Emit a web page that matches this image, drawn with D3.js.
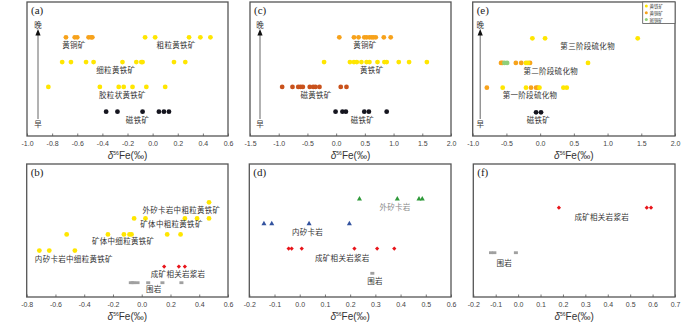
<!DOCTYPE html>
<html><head><meta charset="utf-8">
<script src="https://cdn.jsdelivr.net/npm/d3@7"></script>
<style>body{margin:0;background:#fff}svg{display:block}</style>
</head><body>
<script>
// ---------------- DATA ----------------
// panel (a)
const aChalcopyrite = [-0.69, -0.62, -0.60, -0.51, -0.49, -0.48];
const aCoarsePyrite = [-0.06, 0.02, 0.29, 0.38, 0.46];
const aFinePyrite = [-0.72, -0.65, -0.53, -0.47, -0.24, -0.13, -0.09, -0.08, 0.17, 0.26];
const aColloformPyrite = [-0.83, -0.42, -0.27, -0.23, -0.16, -0.05, 0.10];
const aMagnetite = [-0.37, -0.28, -0.08, 0.05, 0.09, 0.13];
const aTicks = [-1.0, -0.8, -0.6, -0.4, -0.2, 0.0, 0.2, 0.4, 0.6];

// panel (c)
const cChalcopyrite = [0.055, 0.31, 0.39, 0.49, 0.53, 0.58, 0.62, 0.65, 0.69, 0.83, 0.95];
const cPyrite = [-0.21, 0.24, 0.31, 0.36, 0.44, 0.53, 0.58, 0.72, 0.84, 0.88, 1.09, 1.27, 1.58];
const cPyrrhotite = [-0.94, -0.76, -0.66, -0.62, -0.58, -0.46, -0.40, -0.36, -0.29, 0.08, 0.18];
const cMagnetite = [-0.01, 0.11, 0.17, 0.49, 0.57, 0.88];
const cTicks = [-1.5, -1.0, -0.5, 0.0, 0.5, 1.0, 1.5, 2.0];

// panel (e)
const eStage3Pyrite = [-0.115, 0.073, 1.447];
const eStage2Chalcopyrite = [-0.58, -0.56, -0.36, -0.28, -0.15];
const eStage2Bornite = [-0.53, -0.49];
const eStage2Pyrite = [-0.21, -0.18, 0.71];
const eStage1Chalcopyrite = [-0.79, -0.135, -0.06, -0.035];
const eStage1Pyrite = [-0.555, -0.21, -0.01, 0.345, 0.395];
const eMagnetite = [-0.06, 0.013];
const eTicks = [-1.0, -0.5, 0.0, 0.5, 1.0, 1.5, 2.0];
const eLegend = ["黄铁矿", "黄铜矿", "斑铜矿"];

// panel (b)
const bOuterSkarnCoarse = [0.468];
const bOreCoarse = [-0.053, 0.026, 0.30, 0.385, 0.468];
const bOreFine = [-0.522, -0.235, -0.124, -0.085, -0.071, 0.177, 0.27];
const bInnerSkarnFine = [-0.712, -0.643, -0.465];
const bIgneous = [0.156, 0.258, 0.30];
const bWallRock = [-0.076, -0.064, -0.053, -0.029, 0.045, 0.144, 0.276];
const bTicks = [-0.8, -0.6, -0.4, -0.2, 0.0, 0.2, 0.4, 0.6];

// panel (d)
const dOuterSkarn = [0.237, 0.387, 0.473, 0.486];
const dInnerSkarn = [-0.142, -0.111, 0.037, 0.197];
const dIgneous = [-0.044, -0.032, 0.008, 0.217, 0.307, 0.375];
const dWallRock = [0.288];
const dTicks = [-0.2, -0.1, 0.0, 0.1, 0.2, 0.3, 0.4, 0.5, 0.6];

// panel (f)
const fIgneous = [0.182, 0.574, 0.593];
const fWallRock = [-0.121, -0.106, -0.01];
const fTicks = [-0.2, -0.1, 0.0, 0.1, 0.2, 0.3, 0.4, 0.5, 0.6, 0.7];

// ---------------- STYLE ----------------
const COL = {
  yellow: "#ffe600", orange: "#f7a21b", brown: "#c9521c", black: "#15151f",
  red: "#e8141a", gray: "#a0a0a0", green: "#2f9a3a", blue: "#33539f", lightgreen: "#8fcf7a"
};
const CJK = "'Noto Sans CJK SC', sans-serif";

const panels = [
  { name: "(a)", domain: [-1.0, 0.6], ticks: aTicks, left: 27, right: 228, top: 2, bottom: 136,
    rows: [1, 4], rowRange: [111.7, 37.3], arrowX: 11,
    series: [
      { v: aChalcopyrite, row: 4, kind: "dot", c: COL.orange },
      { v: aCoarsePyrite, row: 4, kind: "dot", c: COL.yellow },
      { v: aFinePyrite, row: 3, kind: "dot", c: COL.yellow },
      { v: aColloformPyrite, row: 2, kind: "dot", c: COL.yellow },
      { v: aMagnetite, row: 1, kind: "dot", c: COL.black }],
    labels: [
      { t: "黄铜矿", x: -0.627, row: 4 }, { t: "粗粒黄铁矿", x: 0.187, row: 4 },
      { t: "细粒黄铁矿", x: -0.293, row: 3 }, { t: "胶粒状黄铁矿", x: -0.24, row: 2 },
      { t: "磁铁矿", x: -0.12, row: 1 }] },
  { name: "(c)", domain: [-1.5, 2.0], ticks: cTicks, left: 250, right: 451, top: 2, bottom: 136,
    rows: [1, 4], rowRange: [111.7, 37.3], arrowX: 10,
    series: [
      { v: cChalcopyrite, row: 4, kind: "dot", c: COL.orange },
      { v: cPyrite, row: 3, kind: "dot", c: COL.yellow },
      { v: cPyrrhotite, row: 2, kind: "dot", c: COL.brown },
      { v: cMagnetite, row: 1, kind: "dot", c: COL.black }],
    labels: [
      { t: "黄铜矿", x: 0.50, row: 4 }, { t: "黄铁矿", x: 0.62, row: 3 },
      { t: "磁黄铁矿", x: -0.35, row: 2 }, { t: "磁铁矿", x: 0.456, row: 1 }] },
  { name: "(e)", domain: [-1.0, 2.0], ticks: eTicks, left: 472.7, right: 675, top: 2, bottom: 136,
    rows: [1, 4], rowRange: [112.3, 38.3], arrowX: 7.5,
    series: [
      { v: eStage3Pyrite, row: 4, kind: "dot", c: COL.yellow },
      { v: eStage2Chalcopyrite, row: 3, kind: "dot", c: COL.orange },
      { v: eStage2Bornite, row: 3, kind: "dot", c: COL.lightgreen },
      { v: eStage2Pyrite, row: 3, kind: "dot", c: COL.yellow },
      { v: eStage1Chalcopyrite, row: 2, kind: "dot", c: COL.orange },
      { v: eStage1Pyrite, row: 2, kind: "dot", c: COL.yellow },
      { v: eMagnetite, row: 1, kind: "dot", c: COL.black }],
    labels: [
      { t: "第三阶段硫化物", x: 0.705, row: 4 }, { t: "第二阶段硫化物", x: 0.157, row: 3 },
      { t: "第一阶段硫化物", x: -0.15, row: 2 }, { t: "磁铁矿", x: -0.026, row: 1 }],
    legend: true },
  { name: "(b)", domain: [-0.8, 0.6], ticks: bTicks, left: 26.7, right: 228, top: 164, bottom: 297,
    rows: [1, 6], rowRange: [282.7, 202.3],
    series: [
      { v: bOuterSkarnCoarse, row: 6, kind: "dot", c: COL.yellow },
      { v: bOreCoarse, row: 5, kind: "dot", c: COL.yellow },
      { v: bOreFine, row: 4, kind: "dot", c: COL.yellow },
      { v: bInnerSkarnFine, row: 3, kind: "dot", c: COL.yellow },
      { v: bIgneous, row: 2, kind: "diamond", c: COL.red },
      { v: bWallRock, row: 1, kind: "square", c: COL.gray }],
    labels: [
      { t: "外矽卡岩中粗粒黄铁矿", x: 0.276, row: 6 }, { t: "矿体中粗粒黄铁矿", x: 0.207, row: 5, dy: 5.5 },
      { t: "矿体中细粒黄铁矿", x: -0.129, row: 4, dy: 6 }, { t: "内矽卡岩中细粒黄铁矿", x: -0.472, row: 3, dy: 8 },
      { t: "成矿相关岩浆岩", x: 0.253, row: 2, dy: 6.7 }, { t: "围岩", x: 0.084, row: 1, dy: 6 }] },
  { name: "(d)", domain: [-0.2, 0.6], ticks: dTicks, left: 249.3, right: 451, top: 164, bottom: 297,
    rows: [1, 4], rowRange: [273.3, 199],
    series: [
      { v: dOuterSkarn, row: 4, kind: "triangle", c: COL.green },
      { v: dInnerSkarn, row: 3, kind: "triangle", c: COL.blue },
      { v: dIgneous, row: 2, kind: "diamond", c: COL.red },
      { v: dWallRock, row: 1, kind: "square", c: COL.gray }],
    labels: [
      { t: "外矽卡岩", x: 0.378, row: 4, fill: "#8a8a8a" }, { t: "内矽卡岩", x: 0.031, row: 3 },
      { t: "成矿相关岩浆岩", x: 0.169, row: 2, dy: 9 }, { t: "围岩", x: 0.299, row: 1, dy: 6.7 }] },
  { name: "(f)", domain: [-0.2, 0.7], ticks: fTicks, left: 473.3, right: 675, top: 164, bottom: 297,
    rows: [1, 2], rowRange: [252.7, 207.7],
    series: [
      { v: fIgneous, row: 2, kind: "diamond", c: COL.red },
      { v: fWallRock, row: 1, kind: "square", c: COL.gray }],
    labels: [
      { t: "成矿相关岩浆岩", x: 0.373, row: 2, dy: 9 }, { t: "围岩", x: -0.062, row: 1, dy: 10 }] }
];

// ---------------- DRAW ----------------
const svg = d3.select("body").append("svg").attr("width", 700).attr("height", 322);
const fmt = d => d3.format(".1f")(d).replace("\u2212", "-");

function marker(g, kind, c) {
  if (kind === "dot") {
    g.append("circle").attr("r", 2.4).attr("fill", c);
  } else if (kind === "diamond") {
    g.append("path").attr("d", d3.symbol(d3.symbolSquare, 9)()).attr("transform", "rotate(45)").attr("fill", c);
  } else if (kind === "square") {
    g.append("rect").attr("x", -2).attr("y", -1.4).attr("width", 4).attr("height", 2.8).attr("fill", c);
  } else if (kind === "triangle") {
    g.append("path").attr("d", d3.symbol(d3.symbolTriangle, 11)()).attr("fill", c);
  }
}

panels.forEach(p => {
  const x = d3.scaleLinear().domain(p.domain).range([p.left, p.right]);
  const y = d3.scaleLinear().domain(p.rows).range(p.rowRange);
  const g = svg.append("g");

  // axis with inward ticks
  const ax = g.append("g").attr("transform", `translate(0,${p.bottom})`)
    .call(d3.axisBottom(x).tickValues(p.ticks).tickFormat(fmt).tickSizeInner(-2.5).tickSizeOuter(0).tickPadding(5.5));
  ax.select(".domain").remove();
  ax.selectAll(".tick line").attr("stroke", "#555").attr("stroke-width", 0.8);
  ax.selectAll(".tick text").attr("fill", "#444").style("font-family", "'Liberation Sans', Arial, sans-serif").style("font-size", "7px");

  // frame
  g.append("rect").attr("x", p.left).attr("y", p.top).attr("width", p.right - p.left).attr("height", p.bottom - p.top)
    .attr("fill", "none").attr("stroke", "#555").attr("stroke-width", 1.3);

  // axis title
  const tt = g.append("text").attr("x", (p.left + p.right) / 2).attr("y", p.bottom + 22.5)
    .attr("text-anchor", "middle").attr("fill", "#333")
    .style("font-family", "'Liberation Sans', Arial, sans-serif").style("font-size", "10px");
  tt.append("tspan").style("font-style", "italic").text("δ");
  tt.append("tspan").attr("dy", -4).style("font-size", "5px").text("56");
  tt.append("tspan").attr("dy", 4).text("Fe(‰)");

  // panel label
  g.append("text").attr("x", p.left + 4).attr("y", p.top + 11.5).attr("fill", "#222")
    .style("font-family", "'Liberation Serif', 'Times New Roman', serif").style("font-size", "11px").text(p.name);

  // time arrow
  if (p.arrowX !== undefined) {
    const ax0 = p.left + p.arrowX;
    g.append("line").attr("x1", ax0).attr("x2", ax0).attr("y1", 119).attr("y2", 33)
      .attr("stroke", "#666").attr("stroke-width", 1);
    g.append("path").attr("d", `M${ax0},29 L${ax0 - 2.6},35.5 L${ax0 + 2.6},35.5 Z`).attr("fill", "#111");
    g.append("text").attr("x", ax0).attr("y", 24).attr("text-anchor", "middle").attr("dominant-baseline", "central")
      .attr("fill", "#333").style("font-family", CJK).style("font-size", "7.5px").text("晚");
    g.append("text").attr("x", ax0).attr("y", 123.5).attr("text-anchor", "middle").attr("dominant-baseline", "central")
      .attr("fill", "#333").style("font-family", CJK).style("font-size", "7.5px").text("早");
  }

  // points
  p.series.forEach(s => {
    s.v.forEach(v => {
      const mg = g.append("g").attr("transform", `translate(${x(v)},${y(s.row)})`);
      marker(mg, s.kind, s.c);
    });
  });

  // labels
  p.labels.forEach(l => {
    g.append("text").attr("x", x(l.x)).attr("y", y(l.row) + (l.dy !== undefined ? l.dy : 7.3))
      .attr("text-anchor", "middle").attr("dominant-baseline", "central")
      .attr("fill", l.fill || "#333").style("font-family", CJK).style("font-size", "7.5px")
      .style("letter-spacing", "0.3px").text(l.t);
  });

  // legend
  if (p.legend) {
    const lx = 642.7, ly = p.top;
    g.append("rect").attr("x", lx).attr("y", ly).attr("width", p.right - lx).attr("height", 21.5)
      .attr("fill", "#fff").attr("stroke", "#555").attr("stroke-width", 0.8);
    const lc = [COL.yellow, COL.orange, COL.lightgreen];
    eLegend.forEach((t, i) => {
      const yy = ly + 4 + i * 6.8;
      g.append("circle").attr("cx", lx + 3.6).attr("cy", yy).attr("r", 1.5).attr("fill", lc[i]);
      g.append("text").attr("x", lx + 6.8).attr("y", yy).attr("dominant-baseline", "central")
        .attr("fill", "#333").style("font-family", CJK).style("font-size", "4.5px").text(t);
    });
  }
});
</script>
</body></html>
